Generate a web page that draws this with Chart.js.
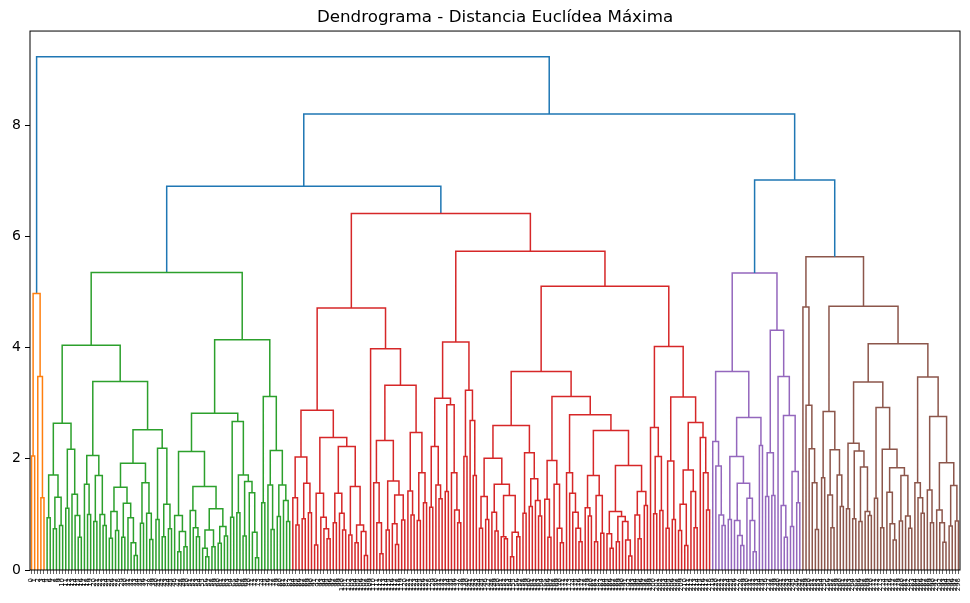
<!DOCTYPE html>
<html><head><meta charset="utf-8">
<script src="https://cdn.jsdelivr.net/npm/chart.js@4.4.1/dist/chart.umd.min.js"></script>
<style>html,body{margin:0;padding:0;background:#fff;}canvas{display:block;}</style>
</head><body>
<canvas id="c" width="970" height="603"></canvas>
<script>
// ---- data (node = [height, left, right], leaf = 0) ----
const TITLE = 'Dendrograma - Distancia Euclídea Máxima';
const yTicks = [0, 2, 4, 6, 8];
const yMax = 9.69;
const topHeights = [9.23, 8.20, 6.90, 7.01]; // root, middle, green+red, purple+brown

const orangeTree = [4.97, [2.05,0,0], [3.48, 0, [1.30,0,0]]];

const greenLeft = [4.04,
  [2.64,
    [1.71, [0.94,0,0], [1.31,[0.74,0,0],[0.80,0,0]]],
    [2.17, [1.11,0,0], [1.36, 0, [0.98, 0, [0.59,0,0]]]]],
  [3.39,
    [2.06, [1.54, 0, [1.00,0,0]], [1.70, [0.87,0,0], [1.00, 0, [0.80,0,0]]]],
    [2.52,
      [1.92,
        [1.49, [1.05,[0.57,0,0],[0.71,0,0]], [1.20,[0.59,0,0],[0.94,0,[0.49,0,[0.26,0,0]]]]],
        [1.57, [0.84,0,0], [1.02,0,[0.55,0,0]]]],
      [2.19, [0.91,0,0], [1.18,[0.60,0,0],[0.74,0,0]]]]]];

const greenRight = [4.14,
  [2.82,
    [2.13,
      [0.98, 0, [0.69,[0.33,0,0],[0.42,0,0]]],
      [1.50,
        [1.07, 0, [0.76, 0, [0.60,0,0]]],
        [1.10,
          [0.72,[0.39,0,[0.24,0,0]],[0.42,0,0]],
          [0.78,[0.48,0,0],[0.61,0,0]]]]],
    [2.67,
      [0.95,0,0],
      [1.71, [1.03,0,0], [1.59,[0.61,0,0],[1.39,0,[0.68,0,[0.22,0,0]]]]]]],
  [3.12,
    [1.21,0,0],
    [2.15, [1.53,0,[0.73,0,0]], [1.53,[0.96,0,0],[1.25,0,[0.87,0,0]]]]]];

const greenTree = [5.35, greenLeft, greenRight];

const redA = [4.71,
  [2.87,
    [2.03, [1.30, 0, [0.81,0,0]], [1.56, [0.92,0,0], [1.03,0,0]]],
    [2.38,
      [1.38, [0.45,0,0], [0.95, 0, [0.74, 0, [0.56,0,0]]]],
      [2.22,
        [1.38, [0.85,0,0], [1.02, 0, [0.72,0,0]]],
        [1.50, [0.63,0,0], [0.81, [0.49,0,0], [0.69, 0, [0.26,0,0]]]]]]],
  [3.98,
    0,
    [3.32,
      [2.33,
        [1.57, 0, [0.85, 0, [0.29,0,0]]],
        [1.60, [0.72,0,0], [1.35, [0.83, 0, [0.46,0,0]], [0.90,0,0]]]],
      [2.47,
        [1.42, 0, [0.99,0,0]],
        [1.75, [0.89,0,0], [1.21,0,0]]]]]];

const redB = [4.10,
  [3.09,
    [2.22, [1.13,0,0], [1.53, 0, [1.28,0,0]]],
    [2.97, [1.41,0,0], [1.75, 0, [1.08, 0, [0.85,0,0]]]]],
  [3.23, [2.04,0,0], [2.69, 0, [1.70,0,0]]]];

const redC = [3.57,
  [2.60,
    [2.01,
      [1.32,[0.75,0,0],[0.91,0,0]],
      [1.54,
        [1.04, 0, [0.70,0,0]],
        [1.34, [0.60, 0, [0.56,0,0]], [0.68,[0.24,0,0],[0.60,0,0]]]]],
    [2.11, [1.02,0,0], [1.64, [1.14,0,0], [1.25, 0, [0.97,0,0]]]]],
  [3.12,
    [1.97, [1.27, 0, [0.59,0,0]], [1.54, 0, [0.75, 0, [0.49,0,0]]]],
    [2.79,
      [1.75, 0, [1.38, 0, [1.04, 0, [0.75, 0, [0.51,0,0]]]]],
      [2.51,
        [1.70, [1.12, 0, [0.97,0,0]], [1.34, [0.51,0,0], [0.66,0,0]]],
        [1.88,
          [1.05, [0.65, 0, [0.39,0,0]], [0.96, [0.51,0,0], [0.87, 0, [0.54, 0, [0.25,0,0]]]]],
          [1.41, [0.99, 0, [0.56,0,0]], [1.16,0,0]]]]]]];

const redD = [4.02,
  [2.56, 0, [2.04, [1.01,0,0], [1.07,0,0]]],
  [3.11,
    [1.96, [0.75,0,0], [0.91,0,0]],
    [2.65,
      [1.80, [1.18, [0.71,0,0], [0.44,0,0]], [1.41, 0, [0.76,0,0]]],
      [2.38, 0, [1.75, 0, [1.08,0,0]]]]]];

const redTree = [6.41, redA, [5.73, redB, [5.10, redC, redD]]];

const purpleTree = [5.34,
  [3.57,
    [2.31, 0, [1.87, 0, [0.99, 0, [0.80,0,0]]]],
    [2.74,
      [2.04, [0.91,0,0], [1.56, [0.89, 0, [0.62, 0, [0.44,0,0]]], [1.29, 0, [0.89, 0, [0.33,0,0]]]]],
      [2.24,0,0]]],
  [4.31,
    [2.11, [1.32,0,0], [1.34,0,0]],
    [3.48, 0, [2.78, [1.16, 0, [0.59,0,0]], [1.77, [0.78,0,0], [1.21,0,0]]]]]];

const brownTree = [5.63,
  [4.73, 0, [2.96, 0, [2.18, 0, [1.57, 0, [0.73,0,0]]]]],
  [4.74,
    [2.85, [1.66,0,0], [2.16, [1.35, 0, [0.76,0,0]], [1.71, 0, [1.14,0,0]]]],
    [4.07,
      [3.38,
        [2.28, [1.10,0,0], [2.14, [0.92,0,0], [1.85, [0.87,0,0], [1.05, 0, [0.98,0,0]]]]],
        [2.92, [1.29,0,0], [2.17, [0.76,0,0], [1.84, [1.40, 0, [0.83, 0, [0.54,0,0]]], [1.70, [0.88,0,0], [0.97, 0, [0.75,0,0]]]]]]],
      [3.47,
        [1.57, 0, [1.30, 0, [1.02,0,0]]],
        [2.76, [1.44, 0, [0.85,0,0]], [1.93, [1.08, 0, [0.85, 0, [0.50,0,0]]], [1.52, [0.79,0,0], [0.88,0,0]]]]]]]];

const clusterColors = ['#ff7f0e', '#2ca02c', '#d62728', '#9467bd', '#8c564b'];
const aboveColor = '#1f77b4';

// ---- assemble tree and lay it out ----
const rootTree = [topHeights[0], orangeTree,
  [topHeights[1], [topHeights[2], greenTree, redTree], [topHeights[3], purpleTree, brownTree]]];
const threshold = 0.7 * topHeights[0];

let leafCount = 0, clusterIdx = 0;
const leafPos = [];
const segs = {};
function walk(node, color) {
  if (node === 0) { const x = leafCount + 0.5; leafCount++; leafPos.push(x); return {x: x, h: 0}; }
  const h = node[0];
  let c = color;
  if (c === null && h < threshold) c = clusterColors[clusterIdx++ % clusterColors.length];
  const L = walk(node[1], c), R = walk(node[2], c);
  const col = c === null ? aboveColor : c;
  (segs[col] = segs[col] || []).push(
    {x: L.x, y: L.h}, {x: L.x, y: h}, {x: R.x, y: h}, {x: R.x, y: R.h}, {x: R.x, y: null});
  return {x: (L.x + R.x) / 2, h: h};
}
walk(rootTree, null);
const leafLabels = leafPos.map((_, i) => String(i));

const datasets = Object.keys(segs).map(col => ({
  data: segs[col], borderColor: col, backgroundColor: col, borderWidth: 1.5,
  pointRadius: 0, pointHoverRadius: 0, showLine: true, fill: false, spanGaps: false, tension: 0,
  borderJoinStyle: 'miter', borderCapStyle: 'butt'
}));

const framePlugin = {
  id: 'frame',
  afterDraw(chart) {
    const a = chart.chartArea, ctx = chart.ctx;
    ctx.save();
    ctx.strokeStyle = '#000'; ctx.lineWidth = 1;
    ctx.strokeRect(a.left, a.top, a.right - a.left, a.bottom - a.top);
    ctx.restore();
  }
};

new Chart(document.getElementById('c'), {
  type: 'scatter',
  data: {datasets: datasets},
  plugins: [framePlugin],
  options: {
    responsive: false, devicePixelRatio: 1, animation: false,
    layout: {padding: {left: 0, right: 10, top: 0, bottom: 0}},
    plugins: {
      legend: {display: false}, tooltip: {enabled: false},
      title: {display: true, text: TITLE, color: '#000', fullSize: false,
        font: {family: 'DejaVu Sans', size: 16.7, weight: 'normal'}, padding: {top: 8, bottom: 3}}
    },
    scales: {
      x: {
        type: 'linear', min: 0, max: leafCount,
        afterBuildTicks: ax => { ax.ticks = leafPos.map(v => ({value: v})); },
        afterFit: s => { s.height = 33; s.paddingLeft = 0; s.paddingRight = 0; },
        ticks: {autoSkip: false, minRotation: 90, maxRotation: 90, padding: 4, color: '#000',
          font: {family: 'DejaVu Sans', size: 6.9}, callback: (v, i) => leafLabels[i]},
        grid: {display: true, drawOnChartArea: false, drawTicks: true, tickLength: 4, color: '#000', lineWidth: 0.6},
        border: {display: false}
      },
      y: {
        type: 'linear', min: 0, max: yMax,
        afterBuildTicks: ax => { ax.ticks = yTicks.map(v => ({value: v})); },
        afterFit: s => { s.width = 30; },
        ticks: {color: '#000', padding: 4, font: {family: 'DejaVu Sans', size: 14}},
        grid: {display: true, drawOnChartArea: false, drawTicks: true, tickLength: 5, color: '#000', lineWidth: 1},
        border: {display: false}
      }
    }
  }
});
</script>
</body></html>
